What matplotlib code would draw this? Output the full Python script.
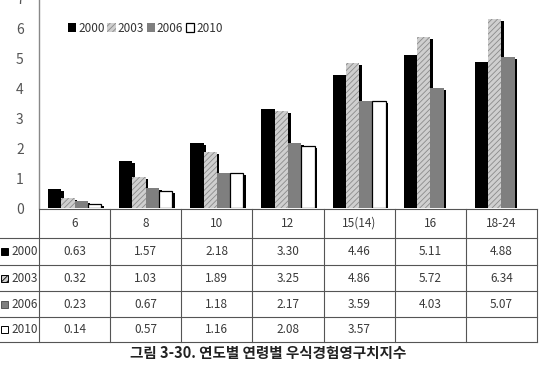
import numpy as np
import matplotlib
matplotlib.use("Agg")
import matplotlib.pyplot as plt
from matplotlib.patches import Rectangle, Patch

plt.rcParams['font.family'] = ['Noto Sans CJK KR', 'DejaVu Sans']
plt.rcParams['hatch.linewidth'] = 0.6

# data
ages = ['6', '8', '10', '12', '15(14)', '16', '18-24']
years = ['2000', '2003', '2006', '2010']
v2000 = [0.63, 1.57, 2.18, 3.30, 4.46, 5.11, 4.88]
v2003 = [0.32, 1.03, 1.89, 3.25, 4.86, 5.72, 6.34]
v2006 = [0.23, 0.67, 1.18, 2.17, 3.59, 4.03, 5.07]
v2010 = [0.14, 0.57, 1.16, 2.08, 3.57, None, None]
series = [v2000, v2003, v2006, v2010]
caption = '그림 3-30. 연도별 연령별 우식경험영구치지수'

# styles
faces = ['black', '#cfcfcf', '#7f7f7f', 'white']
edges = ['black', '#8a8a8a', '#7f7f7f', 'black']
hatches = [None, '//////', None, None]
lws = [0, 0, 0, 0.9]

W, H = 542, 365
fig = plt.figure(figsize=(W / 100, H / 100), dpi=100)

ax_l, ax_r = 39, 537
ax_top, ax_bot = -1, 208
ax = fig.add_axes([ax_l / W, 1 - ax_bot / H, (ax_r - ax_l) / W, (ax_bot - ax_top) / H])
ax.set_xlim(-0.5, len(ages) - 0.5)
ax.set_ylim(0, 7)
colw = (ax_r - ax_l) / len(ages)  # px per category
upx = 7 / (ax_bot - ax_top)       # y units per px

bw = 0.187
x = np.arange(len(ages))
sdx = 2.6 / colw
sdy = 2.0 * upx
for i, vals in enumerate(series):
    for j, v in enumerate(vals):
        if v is None:
            continue
        xl = x[j] - 2 * bw + i * bw
        ax.add_patch(Rectangle((xl + sdx, 0), bw, max(v - sdy, 0), facecolor='black',
                               edgecolor='none', zorder=1))
        ax.add_patch(Rectangle((xl, 0), bw, v, facecolor=faces[i], edgecolor=edges[i],
                               hatch=hatches[i], linewidth=lws[i], zorder=2))

ax.set_xticks([])
ax.set_yticks(range(0, 8))
ax.tick_params(axis='y', length=0, pad=11, labelsize=10, labelcolor='#555555')
for s in ['top', 'right', 'bottom']:
    ax.spines[s].set_visible(False)
ax.spines['left'].set_color('#888888')
ax.spines['left'].set_linewidth(1.0)

# legend
handles = [Patch(facecolor=faces[i], edgecolor=edges[i], hatch=hatches[i],
                 linewidth=max(lws[i], 0.0)) for i in range(4)]
fig.legend(handles, years, loc='center left', bbox_to_anchor=(68 / W, 1 - 28 / H),
           ncol=4, frameon=False, fontsize=8.5, handlelength=0.7, handleheight=0.7,
           handletextpad=0.15, columnspacing=0.25, borderpad=0, borderaxespad=0,
           labelcolor='#333333')

# data table
t_top, t_bot = 209, 342
rows = [0, 29, 56, 82, 108, 133]
tax = fig.add_axes([ax_l / W, 1 - t_bot / H, (ax_r - ax_l) / W, (t_bot - t_top) / H])
tax.set_xlim(-0.5, len(ages) - 0.5)
tax.set_ylim(rows[-1], 0)
tax.axis('off')
lc, lw = '#555555', 0.8
x_fig_left = -0.5 - ax_l / colw
for k, yb in enumerate(rows):
    x0 = -0.5 if k == 0 else x_fig_left
    tax.plot([x0, len(ages) - 0.5], [yb, yb], color=lc, lw=lw, clip_on=False)
for k in range(len(ages) + 1):
    tax.plot([k - 0.5, k - 0.5], [0, rows[-1]], color=lc, lw=lw, clip_on=False)

tc = '#3a3a3a'
for j, a in enumerate(ages):
    tax.text(j, (rows[0] + rows[1]) / 2, a, ha='center', va='center', fontsize=8.5, color=tc)
for i, vals in enumerate(series):
    yc = (rows[i + 1] + rows[i + 2]) / 2
    for j, v in enumerate(vals):
        if v is not None:
            tax.text(j, yc, f'{v:.2f}', ha='center', va='center', fontsize=8.5, color=tc)
    ms = 7 / colw
    mh = 7
    tax.add_patch(Rectangle((x_fig_left + 1 / colw, yc - mh / 2), ms, mh, facecolor=faces[i],
                            edgecolor='black' if i != 2 else '#555555', hatch=hatches[i],
                            linewidth=0.7, clip_on=False))
    tax.text(x_fig_left + 11 / colw, yc, years[i], ha='left', va='center', fontsize=8.5,
             color=tc)

fig.text(268 / W, 1 - 353 / H, caption, ha='center', va='center', fontsize=10.5,
         fontweight='bold', color='#222222')

fig.savefig('out.png', dpi=100)
